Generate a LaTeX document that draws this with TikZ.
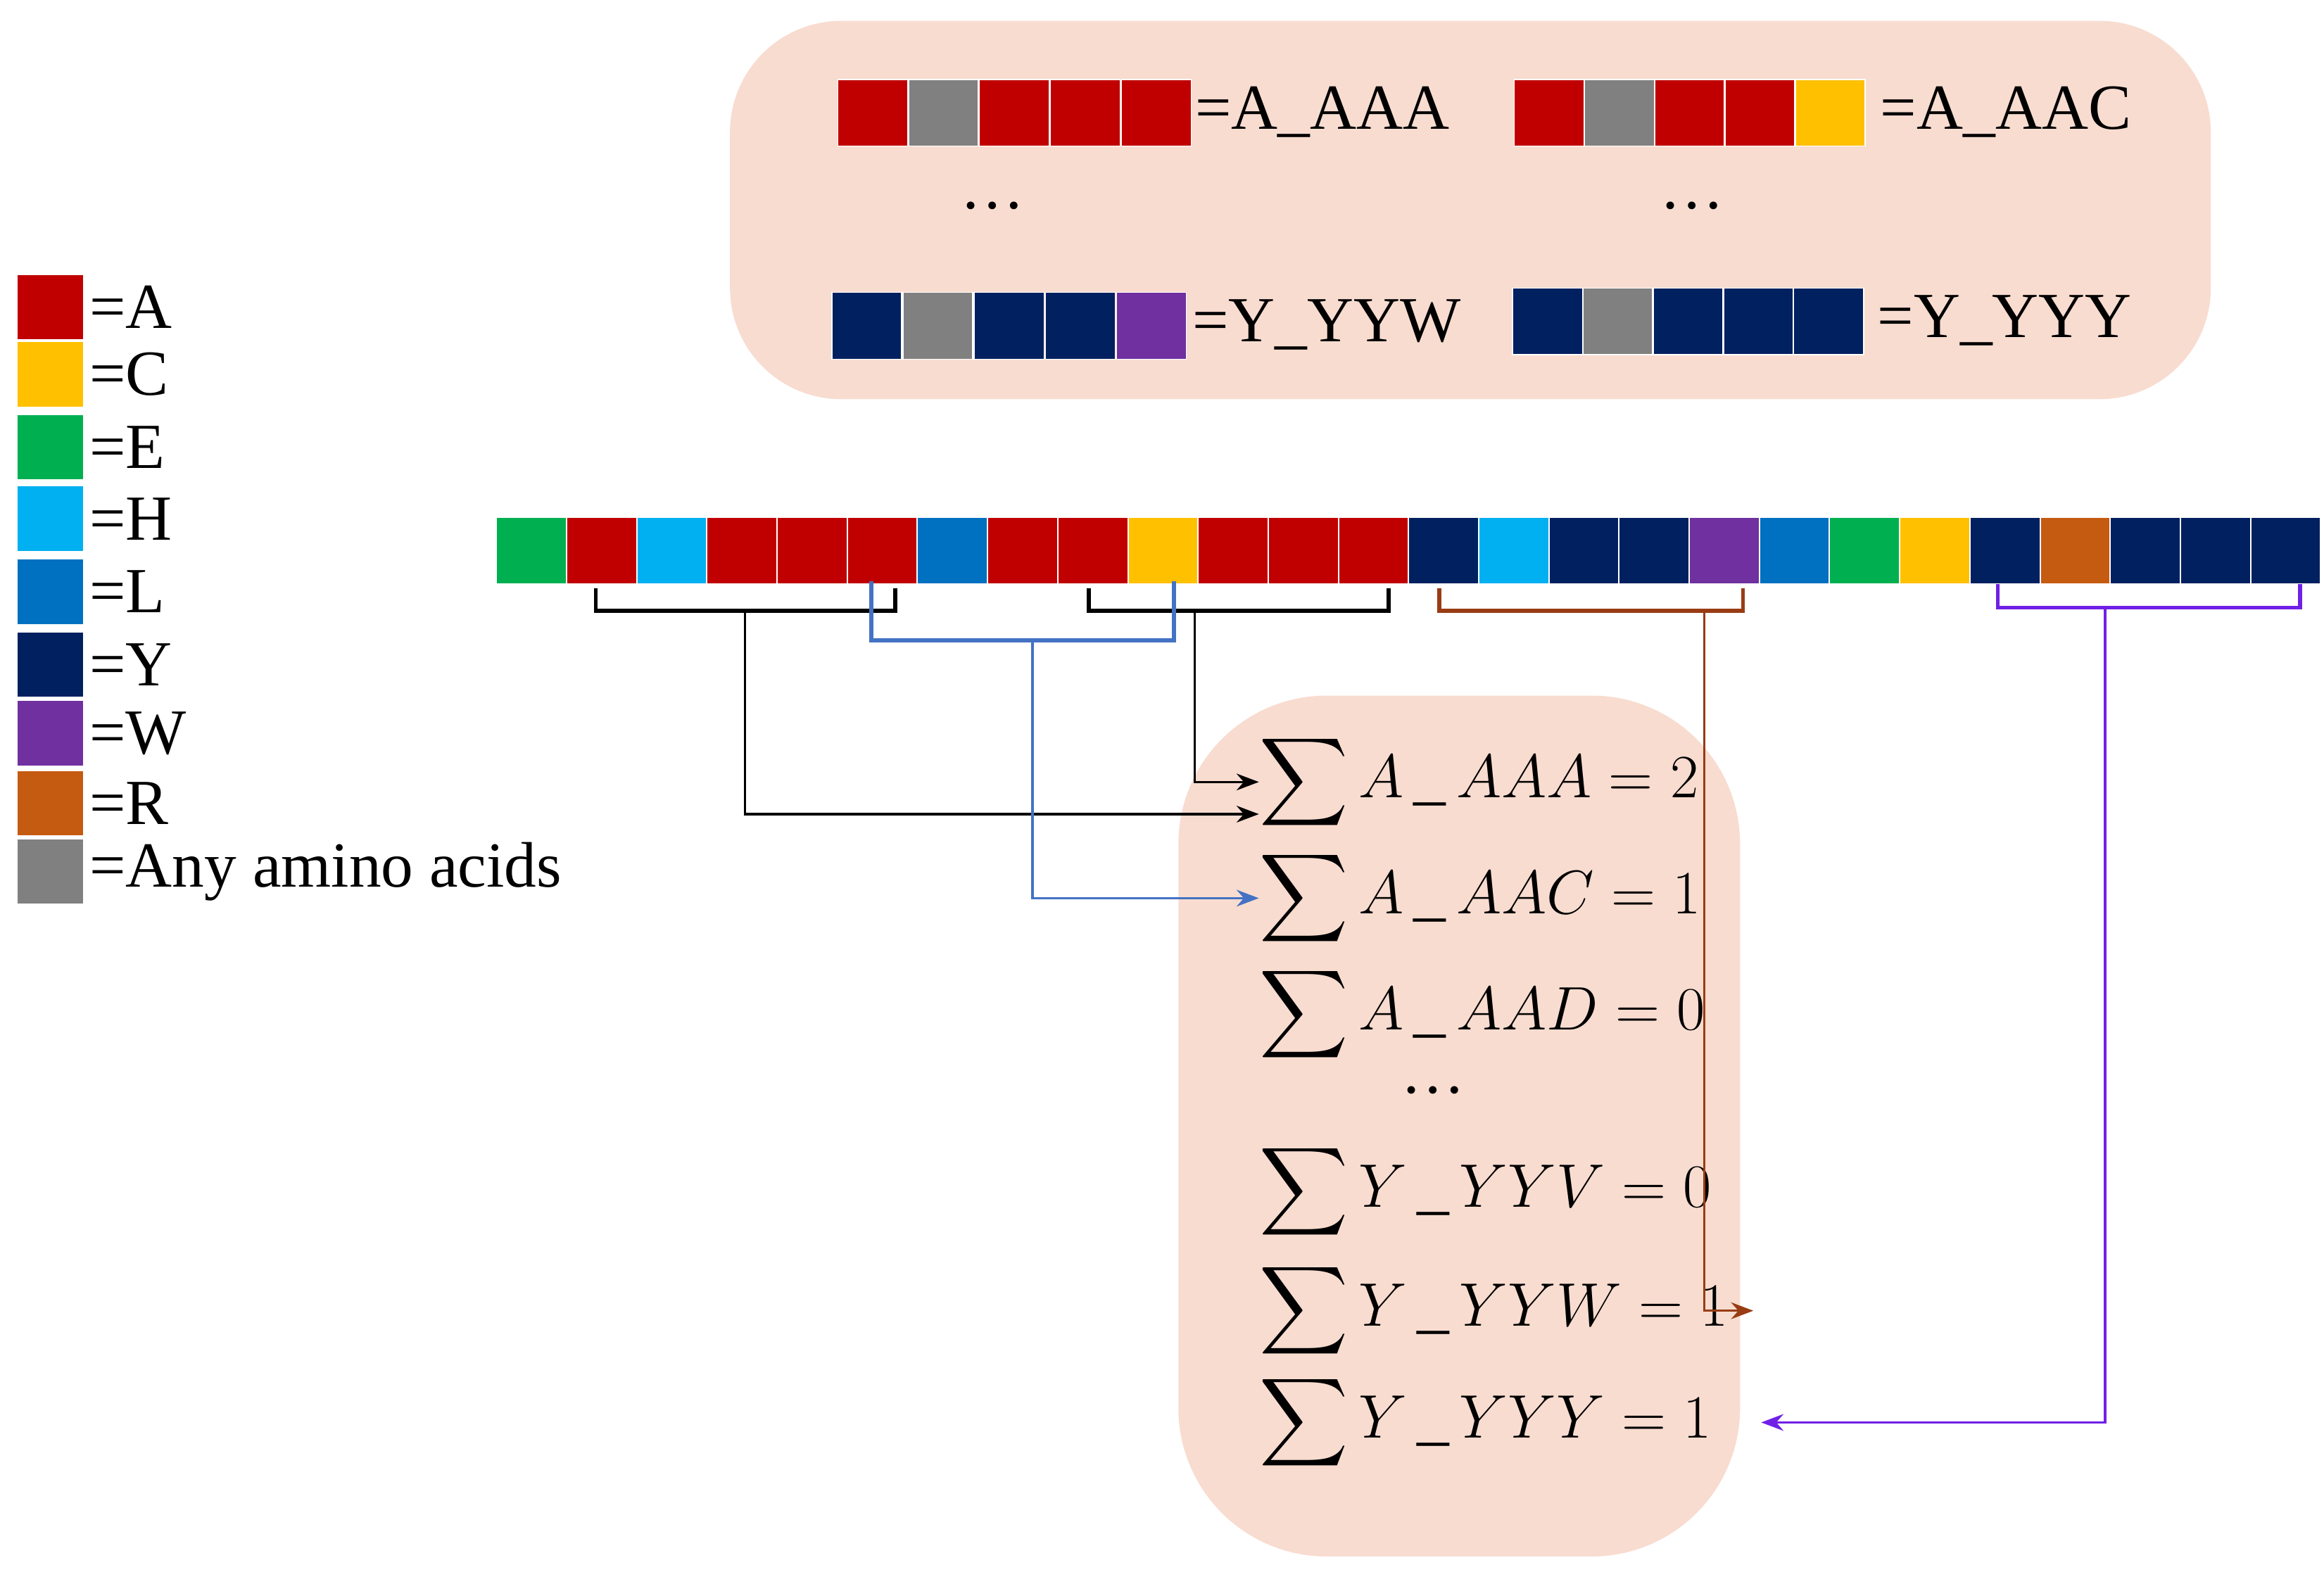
\documentclass[tikz,border=0pt]{standalone}
\usepackage{fontspec}
\setmainfont{Liberation Serif}
\usepackage{amsmath}
\usetikzlibrary{arrows.meta}
\definecolor{cA}{RGB}{192,0,0}
\definecolor{cC}{RGB}{255,192,0}
\definecolor{cE}{RGB}{0,176,80}
\definecolor{cH}{RGB}{0,176,240}
\definecolor{cL}{RGB}{0,112,192}
\definecolor{cY}{RGB}{0,32,96}
\definecolor{cW}{RGB}{112,48,160}
\definecolor{cR}{RGB}{197,90,17}
\definecolor{cX}{RGB}{128,128,128}
\definecolor{kPink}{RGB}{248,220,208}
\definecolor{kBlue}{RGB}{68,114,196}
\definecolor{kBrown}{RGB}{153,60,20}
\definecolor{kPurple}{RGB}{112,32,230}
\tikzset{
  cell/.style={draw=white,line width=0.4pt,minimum width=47pt*0.6,minimum height=45pt*0.6,inner sep=0pt,anchor=north west},
  lab/.style={font=\fontsize{26}{30}\selectfont,anchor=west,inner sep=0pt},
  eq/.style={font=\fontsize{26}{30}\selectfont,anchor=west,inner sep=0pt},
  brk/.style={line width=1.6pt},
  lnk/.style={line width=1pt,-{Stealth[length=9pt]}}
}
\begin{document}
\begin{tikzpicture}[x=0.2117mm,y=-0.2117mm]
  \useasboundingbox (0,0) rectangle (1560,1055);

  % pink panels
  \fill[kPink,rounded corners=45] (490,14) rectangle (1484,268);
  \fill[kPink,rounded corners=60] (791,467) rectangle (1168,1045);

  % legend
  \foreach \c/\t/\y in {cA/A/184,cC/C/229,cE/E/278,cH/H/326,cL/L/375,cY/Y/424,cW/W/470,cR/R/517,cX/Any amino acids/563}{
    \node[cell,fill=\c,minimum width=45pt*0.6,minimum height=44pt*0.6] (leg\t) at (11,\y) {};
    \node[lab] at ([xshift=2pt]leg\t.east) {=\t};
  }

  % motifs
  \foreach \c [count=\i] in {cA,cX,cA,cA,cA}
    \node[cell,fill=\c] (ma\i) at ({562+(\i-1)*47.6},53) {};
  \node[lab] at (802,75) {=A\_AAA};
  \foreach \c [count=\i] in {cA,cX,cA,cA,cC}
    \node[cell,fill=\c] (mb\i) at ({1016+(\i-1)*47.2},53) {};
  \node[lab] at (1262,75) {=A\_AAC};
  \foreach \c [count=\i] in {cY,cX,cY,cY,cW}
    \node[cell,fill=\c] (mc\i) at ({558+(\i-1)*47.8},196) {};
  \node[lab] at (800,218) {=Y\_YYW};
  \foreach \c [count=\i] in {cY,cX,cY,cY,cY}
    \node[cell,fill=\c] (md\i) at ({1015+(\i-1)*47.2},193) {};
  \node[lab] at (1260,215) {=Y\_YYY};
  \node[lab,anchor=center] at (666,138) {\dots};
  \node[lab,anchor=center] at (1136,138) {\dots};

  % sequence
  \foreach \c [count=\i] in {cE,cA,cH,cA,cA,cA,cL,cA,cA,cC,cA,cA,cA,cY,cH,cY,cY,cW,cL,cE,cC,cY,cR,cY,cY,cY}
    \node[cell,fill=\c] (s\i) at ({333+(\i-1)*47.1},347) {};

  % counts
  \node[eq] (e1) at (845,525) {$\displaystyle\sum A\,\_\,AAA=2$};
  \node[eq] (e2) at (845,603) {$\displaystyle\sum A\,\_\,AAC=1$};
  \node[eq] (e3) at (845,681) {$\displaystyle\sum A\,\_\,AAD=0$};
  \node[eq,anchor=center] (e4) at (962,732) {\dots};
  \node[eq] (e5) at (845,800) {$\displaystyle\sum Y\,\_\,YYV=0$};
  \node[eq] (e6) at (845,880) {$\displaystyle\sum Y\,\_\,YYW=1$};
  \node[eq] (e7) at (845,955) {$\displaystyle\sum Y\,\_\,YYY=1$};

  % brackets
  \draw[brk] (400,395) -- (400,410) -- (601,410) -- (601,395);
  \draw[brk] (731,395) -- (731,410) -- (932,410) -- (932,395);
  \draw[brk,kBlue] (585,390) -- (585,430) -- (788,430) -- (788,390);
  \draw[brk,kBrown] (966,395) -- (966,410) -- (1170,410) -- (1170,395);
  \draw[brk,kPurple] (1341,392) -- (1341,408) -- (1544,408) -- (1544,392);

  \coordinate (b1) at (500,410);
  \coordinate (b2) at (802,410);
  \coordinate (b3) at (693,430);
  \coordinate (b4) at (1144,410);
  \coordinate (b5) at (1413,408);

  % links
  \draw[lnk] (b1) |- ([yshift=-13pt]e1.west);
  \draw[lnk] (b2) |- ([yshift=0pt]e1.west);
  \draw[lnk,kBlue] (b3) |- (e2.west);
  \draw[lnk,kBrown] (b4) |- ([xshift=10pt]e6.east);
  \draw[lnk,kPurple] (b5) |- ([xshift=20pt]e7.east);
\end{tikzpicture}
\end{document}
